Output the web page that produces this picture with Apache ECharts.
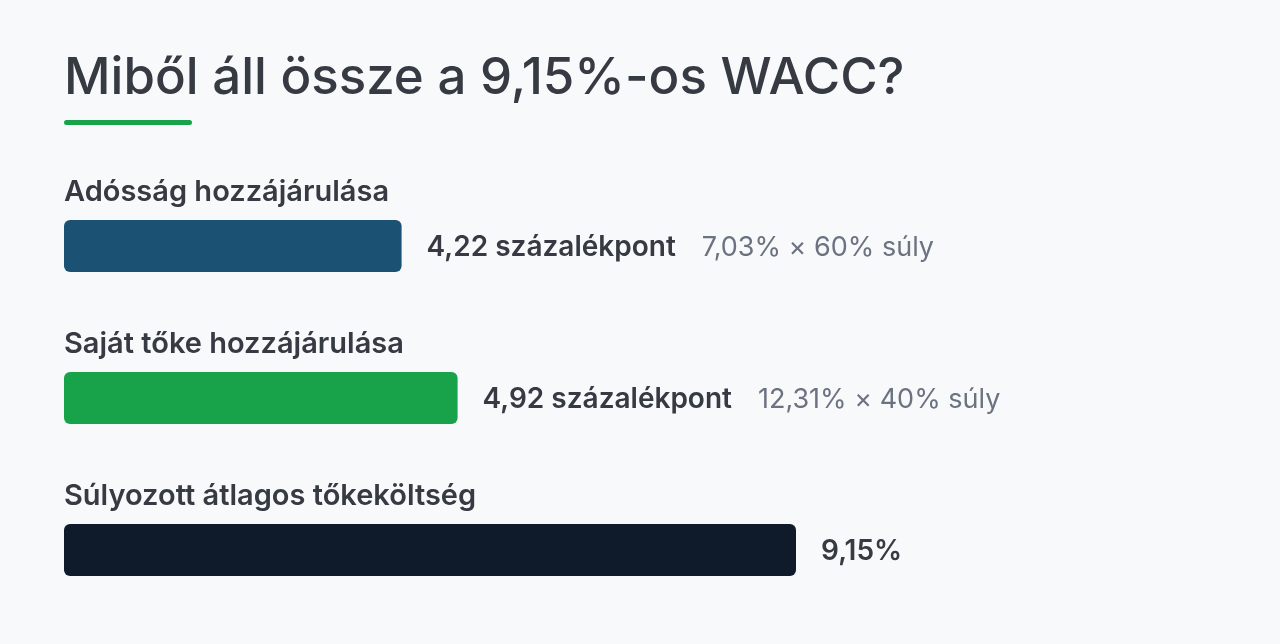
<!DOCTYPE html>
<html><head><meta charset="utf-8">
<script src="https://cdn.jsdelivr.net/npm/echarts@6/dist/echarts.min.js"></script>
<style>html,body{margin:0;padding:0;background:#f8f9fb}#c{width:1280px;height:644px}</style>
</head><body><div id="c"></div>
<script>
const titleText = 'Miből áll össze a 9,15%-os WACC?';
const categories = ['Adósság hozzájárulása', 'Saját tőke hozzájárulása', 'Súlyozott átlagos tőkeköltség'];
const values = [4.22, 4.92, 9.15];
const valueLabels = ['4,22 százalékpont', '4,92 százalékpont', '9,15%'];
const noteLabels = ['7,03% × 60% súly', '12,31% × 40% súly', ''];
const barColors = ['#1b5273', '#18a34a', '#0f1b2b'];

const FONT = 'Inter';
const chart = echarts.init(document.getElementById('c'), null, {renderer: 'canvas'});
chart.setOption({
  backgroundColor: '#f8f9fb',
  animation: false,
  title: {
    text: titleText, left: 59, top: 48,
    textStyle: {fontFamily: FONT, fontSize: 51, fontWeight: 500, color: '#363a42'}
  },
  graphic: [{
    type: 'rect', left: 64, top: 120,
    shape: {width: 128, height: 5, r: 2.5},
    style: {fill: '#18a34a'}
  }],
  grid: {left: 64, top: 170, width: 800, height: 456},
  xAxis: {type: 'value', min: 0, max: 10, show: false},
  yAxis: {type: 'category', data: categories, inverse: true, show: false},
  series: [{
    type: 'bar', barWidth: 52, barGap: '-100%',
    data: values.map((v, i) => ({value: v, itemStyle: {color: barColors[i]}})),
    itemStyle: {borderRadius: 6},
    label: {
      show: true, position: 'right', distance: 25, offset: [0, 2],
      formatter: p => noteLabels[p.dataIndex]
        ? '{b|' + valueLabels[p.dataIndex] + '}{g|' + noteLabels[p.dataIndex] + '}'
        : '{b|' + valueLabels[p.dataIndex] + '}',
      rich: {
        b: {fontFamily: FONT, fontSize: 28, fontWeight: 600, color: '#363a42'},
        g: {fontFamily: FONT, fontSize: 27, fontWeight: 400, color: '#6b7280', padding: [0, 0, 0, 26]}
      }
    }
  }, {
    type: 'bar', barWidth: 52, barGap: '-100%',
    data: values, itemStyle: {color: 'rgba(0,0,0,0)'}, silent: true,
    label: {
      show: true, position: [0, -13], align: 'left', verticalAlign: 'bottom',
      formatter: p => categories[p.dataIndex],
      fontFamily: FONT, fontSize: 29, fontWeight: 600, color: '#363a42'
    }
  }]
});
</script></body></html>
